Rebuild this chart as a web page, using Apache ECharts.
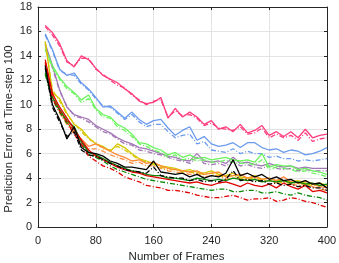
<!DOCTYPE html>
<html><head><meta charset="utf-8">
<script src="https://cdn.jsdelivr.net/npm/echarts@6/dist/echarts.min.js"></script>
<style>html,body{margin:0;padding:0;background:#fff}#c{width:339px;height:263px}</style>
</head><body><div id="c"></div>
<script>
const frames = [10,20,30,40,50,60,70,80,90,100,110,120,130,140,150,160,170,180,190,200,210,220,230,240,250,260,270,280,290,300,310,320,330,340,350,360,370,380,390,400];
const xTicks = [0,80,160,240,320,400];
const yTicks = [0,2,4,6,8,10,12,14,16,18];
const xTitle = 'Number of Frames';
const yTitle = 'Prediction Error at Time-step 100';

const pinkSolid  = [16.5,15.9,15.0,13.6,13.1,14.0,13.7,13.0,12.4,12.1,11.8,11.3,10.9,10.3,10.1,10.2,10.6,8.9,9.7,9.0,9.4,9.0,8.4,8.7,8.0,8.2,7.8,8.4,7.7,7.9,8.3,7.5,7.8,7.4,7.8,7.3,8.0,7.3,7.5,7.6];
const pinkDash   = [16.4,15.7,14.8,13.5,13.2,13.8,13.8,12.9,12.5,12.0,11.6,11.4,10.8,10.4,10.0,10.3,10.4,9.0,9.5,9.1,9.2,8.9,8.3,8.5,8.1,8.0,7.9,8.2,7.6,7.7,8.1,7.3,7.6,7.3,7.5,7.1,7.7,7.0,7.2,7.3];
const blueSolid  = [15.8,14.5,12.9,12.4,12.6,11.8,11.3,10.6,9.8,9.9,9.4,8.9,9.4,8.8,8.4,8.7,8.8,8.1,7.5,7.9,8.2,7.1,7.4,6.8,6.6,6.7,6.9,6.5,6.9,6.9,6.5,6.3,6.4,6.1,6.3,6.2,5.9,6.0,6.2,6.5];
const blueDash   = [15.7,14.4,12.8,12.5,12.4,11.7,11.2,10.5,9.9,9.8,9.3,8.8,9.2,8.6,8.2,8.4,8.4,7.8,7.3,7.5,7.6,6.8,7.0,6.3,6.2,6.1,6.4,6.0,6.2,6.0,6.0,5.7,5.8,5.6,5.6,5.4,5.5,5.4,5.5,5.6];
const purpleSolid= [15.0,13.2,11.2,9.8,9.2,9.0,8.8,8.3,8.0,7.7,7.3,7.0,6.8,6.5,6.4,6.2,6.0,5.8,5.7,5.5,5.4,6.0,5.4,5.3,5.4,5.2,5.7,5.2,5.3,5.1,5.0,5.2,5.0,4.9,5.0,4.8,4.9,4.8,4.8,4.8];
const purpleDash = [14.9,13.0,11.1,9.9,9.1,8.9,8.6,8.2,7.8,7.6,7.2,6.8,6.7,6.3,6.2,6.0,5.9,5.7,5.5,5.4,5.2,5.7,5.2,5.1,5.2,5.0,5.4,5.0,5.1,4.9,4.8,5.0,4.8,4.7,4.8,4.6,4.7,4.6,4.6,4.6];
const greenSolid = [14.6,13.2,12.2,11.5,11.0,10.4,10.8,9.7,9.2,9.0,8.4,8.1,7.6,6.9,6.8,6.5,6.3,5.9,6.1,5.7,5.9,5.6,5.7,5.5,5.6,5.7,5.5,5.4,5.5,5.3,6.0,4.9,5.1,5.0,5.0,4.7,4.8,4.6,4.5,4.3];
const greenDash  = [14.5,13.0,12.1,11.3,10.9,10.2,10.5,9.6,9.0,8.9,8.2,7.9,7.4,6.8,6.6,6.3,6.1,5.7,5.9,5.5,5.6,5.4,5.5,5.3,5.3,5.5,5.3,5.2,5.2,5.1,5.5,4.7,4.9,4.8,4.7,4.5,4.6,4.4,4.3,4.1];
const yellowSolid= [15.2,11.0,10.5,9.3,8.4,8.0,7.3,6.8,6.6,6.2,6.8,6.5,6.0,5.6,5.4,5.2,5.0,4.9,4.8,4.6,4.7,4.5,4.4,4.6,4.3,4.2,4.4,4.1,4.0,4.2,3.9,4.0,3.8,3.8,3.7,3.8,3.6,3.5,3.6,3.4];
const yellowDash = [15.1,11.2,10.3,9.2,8.5,7.8,7.2,6.9,6.4,6.3,6.6,6.3,5.9,5.5,5.3,5.1,4.9,4.7,4.7,4.5,4.5,4.4,4.3,4.4,4.2,4.1,4.2,4.0,3.9,4.0,3.8,3.8,3.7,3.6,3.6,3.6,3.5,3.4,3.4,3.3];
const orangeSolid= [13.4,11.0,9.5,8.6,7.8,7.2,6.6,6.8,6.5,6.2,5.9,5.7,5.4,5.5,5.2,5.3,5.0,4.8,4.7,4.6,4.5,4.6,4.3,4.4,4.5,4.1,4.2,4.3,4.0,4.1,3.9,4.0,3.8,4.1,3.7,3.6,3.8,3.5,3.3,3.2];
const orangeDash = [13.3,10.8,9.3,8.4,7.6,7.0,6.4,6.4,6.2,5.9,5.7,5.5,5.2,5.3,5.0,5.0,4.8,4.6,4.5,4.4,4.3,4.4,4.1,4.2,4.2,3.9,4.0,4.0,3.8,3.9,3.7,3.8,3.6,3.8,3.5,3.4,3.5,3.3,3.1,3.0];
const dgreenSolid= [12.6,10.6,9.6,8.7,8.2,7.0,6.1,5.9,5.6,5.3,5.0,4.8,4.6,4.5,4.3,4.2,4.2,4.0,4.0,3.9,3.8,4.0,3.9,3.8,3.9,3.8,4.0,3.9,3.8,3.9,3.7,3.8,3.7,3.8,3.6,3.7,3.5,3.6,3.4,3.5];
const dgreenDash = [12.5,10.4,9.4,8.5,8.0,6.8,5.9,5.7,5.4,5.0,4.7,4.5,4.3,4.1,3.9,3.8,3.7,3.6,3.5,3.4,3.3,3.2,3.1,3.0,3.1,3.1,2.9,2.9,3.0,3.0,2.8,2.8,2.9,2.7,2.6,2.8,2.6,2.5,2.4,2.2];
const redSolid   = [13.7,10.9,9.8,8.9,8.0,7.1,6.3,5.8,5.5,5.2,4.9,4.7,4.5,4.4,4.2,4.1,4.0,3.9,3.8,3.7,3.6,3.7,3.5,3.4,3.6,3.7,3.5,3.3,3.6,3.4,3.3,3.5,3.2,3.6,3.3,3.1,3.4,2.9,3.0,2.8];
const redDash    = [13.5,10.5,9.5,8.6,7.6,6.8,5.8,5.4,5.0,4.8,4.5,4.1,3.9,3.7,3.4,3.3,3.2,3.0,3.0,2.9,2.8,2.6,2.5,2.4,2.4,2.5,2.6,2.4,2.2,2.3,2.3,2.4,2.1,2.2,2.4,2.3,2.1,2.0,1.8,1.6];
const blackSolid = [13.2,10.0,8.8,7.2,8.2,6.5,6.1,6.0,5.8,5.4,5.2,4.9,4.9,4.8,4.7,5.4,4.5,4.4,4.3,4.4,4.1,4.3,4.0,4.2,4.1,4.4,5.5,4.2,4.4,4.1,4.3,3.9,4.1,3.8,3.9,3.6,3.8,3.5,3.6,3.2];
const blackDash  = [13.0,9.8,8.6,7.4,7.8,6.3,5.9,5.8,5.5,5.2,5.0,4.7,4.6,4.5,4.4,4.9,4.2,4.1,4.0,4.0,3.8,3.9,3.7,3.8,3.7,3.9,4.6,3.8,3.9,3.7,3.8,3.5,3.6,3.4,3.5,3.3,3.4,3.2,3.2,3.0];

const dashDot = [5,2,1,2];
function mk(arr, color, dashed, z) {
  return {
    type: 'line', data: frames.map((f, i) => [f, arr[i]]),
    showSymbol: false, symbol: 'none', silent: true, z: z,
    lineStyle: { color: color, width: 1.3, type: dashed ? dashDot : 'solid' }
  };
}
const series = [
  mk(pinkDash, '#FF3C80', true, 2), mk(pinkSolid, '#FF3C80', false, 2),
  mk(blueDash, '#6A9AEE', true, 2), mk(blueSolid, '#6A9AEE', false, 2),
  mk(purpleDash, '#A277B6', true, 2), mk(purpleSolid, '#A277B6', false, 2),
  mk(greenDash, '#6CF45E', true, 2), mk(greenSolid, '#6CF45E', false, 2),
  mk(yellowDash, '#D6C600', true, 2), mk(yellowSolid, '#D6C600', false, 2),
  mk(orangeDash, '#FF8A3A', true, 2), mk(orangeSolid, '#FF8A3A', false, 2),
  mk(dgreenDash, '#088A08', true, 2), mk(dgreenSolid, '#088A08', false, 2),
  mk(redDash, '#E00000', true, 2), mk(redSolid, '#E00000', false, 2),
  mk(blackDash, '#000000', true, 2), mk(blackSolid, '#000000', false, 2)
];

const font = 'Liberation Sans, Arial, sans-serif';
const chart = echarts.init(document.getElementById('c'), null, { renderer: 'canvas' });
const axisCol = '#262626';
chart.setOption({
  animation: false,
  backgroundColor: '#ffffff',
  grid: { left: 38, right: 12, top: 7, bottom: 36, containLabel: false, outerBoundsMode: 'none' },
  graphic: [{
    type: 'text', x: 9, y: 129, rotation: Math.PI / 2, silent: true,
    style: { text: yTitle, fill: axisCol, font: '11.4px ' + font, align: 'center', verticalAlign: 'middle' }
  }],
  xAxis: [{
    type: 'value', min: xTicks[0], max: xTicks[xTicks.length - 1], interval: 80,
    name: xTitle, nameLocation: 'middle', nameGap: 22,
    nameTextStyle: { color: axisCol, fontSize: 11.5, fontFamily: font, padding: [0, 12, 0, 0] },
    axisLine: { show: true, lineStyle: { color: axisCol, width: 1 } },
    axisTick: { show: true, inside: true, length: 3, lineStyle: { color: axisCol } },
    axisLabel: { color: axisCol, fontSize: 11, fontFamily: font, margin: 8 },
    splitLine: { show: true, lineStyle: { color: '#e3e3e3', width: 1 } }
  }, {
    type: 'value', position: 'top', min: 0, max: 400, interval: 80,
    axisLine: { show: true, onZero: false, lineStyle: { color: axisCol, width: 1 } },
    axisTick: { show: true, inside: true, length: 3, lineStyle: { color: axisCol } },
    axisLabel: { show: false }, splitLine: { show: false }
  }],
  yAxis: [{
    type: 'value', min: yTicks[0], max: yTicks[yTicks.length - 1], interval: 2,
    axisLine: { show: true, lineStyle: { color: axisCol, width: 1 } },
    axisTick: { show: true, inside: true, length: 3, lineStyle: { color: axisCol } },
    axisLabel: { color: axisCol, fontSize: 11, fontFamily: font, margin: 6 },
    splitLine: { show: true, lineStyle: { color: '#e3e3e3', width: 1 } }
  }, {
    type: 'value', position: 'right', min: 0, max: 18, interval: 2,
    axisLine: { show: true, onZero: false, lineStyle: { color: axisCol, width: 1 } },
    axisTick: { show: true, inside: true, length: 3, lineStyle: { color: axisCol } },
    axisLabel: { show: false }, splitLine: { show: false }
  }],
  series: series
});
</script></body></html>
